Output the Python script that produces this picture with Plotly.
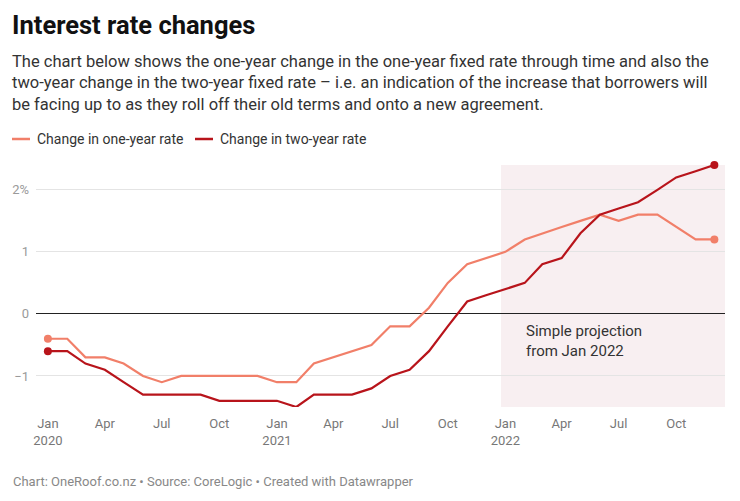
import pandas as pd
import plotly.graph_objects as go

# ---- data ----
months = pd.date_range("2020-01-01", "2022-12-01", freq="MS")
one_year_change = [-0.4, -0.4, -0.7, -0.7, -0.8, -1.0, -1.1, -1.0, -1.0, -1.0, -1.0, -1.0,
                   -1.1, -1.1, -0.8, -0.7, -0.6, -0.5, -0.2, -0.2, 0.1, 0.5, 0.8, 0.9,
                   1.0, 1.2, 1.3, 1.4, 1.5, 1.6, 1.5, 1.6, 1.6, 1.4, 1.2, 1.2]
two_year_change = [-0.6, -0.6, -0.8, -0.9, -1.1, -1.3, -1.3, -1.3, -1.3, -1.4, -1.4, -1.4,
                   -1.4, -1.5, -1.3, -1.3, -1.3, -1.2, -1.0, -0.9, -0.6, -0.2, 0.2, 0.3,
                   0.4, 0.5, 0.8, 0.9, 1.3, 1.6, 1.7, 1.8, 2.0, 2.2, 2.3, 2.4]
y_tickvals = [-1, 0, 1, 2]
y_ticktext = ["\u22121", "0", "1", "2%"]
x_tickvals = pd.date_range("2020-01-01", "2022-10-01", freq="QS")
x_ticktext = ["Jan<br>2020", "Apr", "Jul", "Oct", "Jan<br>2021", "Apr", "Jul", "Oct",
              "Jan<br>2022", "Apr", "Jul", "Oct"]
series_names = ["Change in one-year rate", "Change in two-year rate"]
projection_start = "2021-12-25"
projection_end = "2022-12-18"
projection_label = "Simple projection<br>from Jan 2022"

C1 = "#f17f69"
C2 = "#b8141b"
FONT = "Roboto"

W, H = 740, 501
ML, MR, MT, MB = 36, 15, 165, 94
PW, PH = W - ML - MR, H - MT - MB


def px_x(p):
    return (p - ML) / PW


def px_y(p):
    return (H - MB - p) / PH


fig = go.Figure()
for vals, col, name in [(one_year_change, C1, series_names[0]), (two_year_change, C2, series_names[1])]:
    fig.add_trace(go.Scatter(x=months, y=vals, mode="lines", name=name,
                             line=dict(color=col, width=2.2), showlegend=False,
                             cliponaxis=False, hoverinfo="skip"))
    fig.add_trace(go.Scatter(x=[months[0], months[-1]], y=[vals[0], vals[-1]], mode="markers",
                             marker=dict(color=col, size=8), showlegend=False,
                             cliponaxis=False, hoverinfo="skip"))

# projection shading
fig.add_shape(type="rect", xref="x", yref="paper", x0=projection_start, x1=projection_end,
              y0=0, y1=1, layer="below", line_width=0, fillcolor="#f8eff1")

fig.add_annotation(x=px_x(524), y=px_y(341), xref="paper", yref="paper", xanchor="left",
                   yanchor="middle", align="left", showarrow=False, text=projection_label,
                   font=dict(family=FONT, size=15, color="#333333"))

# title / subtitle / footer
fig.add_annotation(x=px_x(10), y=px_y(25), xref="paper", yref="paper", xanchor="left",
                   yanchor="middle", showarrow=False, text="<b>Interest rate changes</b>",
                   font=dict(family=FONT, size=25.5, color="#111111"))
subtitle = ("The chart below shows the one-year change in the one-year fixed rate through time and also the<br>"
            "two-year change in the two-year fixed rate \u2013 i.e. an indication of the increase that borrowers will<br>"
            "be facing up to as they roll off their old terms and onto a new agreement.")
fig.add_annotation(x=px_x(10), y=px_y(83), xref="paper", yref="paper", xanchor="left",
                   yanchor="middle", align="left", showarrow=False, text=subtitle,
                   font=dict(family=FONT, size=16.5, color="#333333"))
fig.add_annotation(x=px_x(11), y=px_y(481), xref="paper", yref="paper", xanchor="left",
                   yanchor="middle", showarrow=False,
                   text="Chart: OneRoof.co.nz \u2022 Source: CoreLogic \u2022 Created with Datawrapper",
                   font=dict(family=FONT, size=13, color="#888888"))

# legend
for x0, x1, tx, col, name in [(12, 30, 35, C1, series_names[0]), (195, 213, 218, C2, series_names[1])]:
    fig.add_shape(type="line", xref="paper", yref="paper", x0=px_x(x0), x1=px_x(x1),
                  y0=px_y(139), y1=px_y(139), line=dict(color=col, width=2.5))
    fig.add_annotation(x=px_x(tx), y=px_y(139), xref="paper", yref="paper", xanchor="left",
                       yanchor="middle", showarrow=False, text=name,
                       font=dict(family=FONT, size=14, color="#333333"))

fig.update_layout(
    width=W, height=H, margin=dict(l=ML, r=MR, t=MT, b=MB),
    paper_bgcolor="white", plot_bgcolor="white",
    font=dict(family=FONT),
    xaxis=dict(range=["2019-12-13", projection_end], tickvals=x_tickvals, ticktext=x_ticktext,
               showgrid=False, zeroline=False, showline=False, ticks="",
               ticklabelstandoff=7,
               tickfont=dict(family=FONT, size=13, color="#777777")),
    yaxis=dict(range=[-1.5, 2.4], tickvals=y_tickvals, ticktext=y_ticktext,
               showgrid=True, gridcolor="#e4e4e4", gridwidth=1,
               zeroline=True, zerolinecolor="#222222", zerolinewidth=1.2,
               showline=False, ticks="", ticklabelstandoff=6,
               tickfont=dict(family=FONT, size=13, color="#9a9a9a")),
)

fig.write_html("out.html")
